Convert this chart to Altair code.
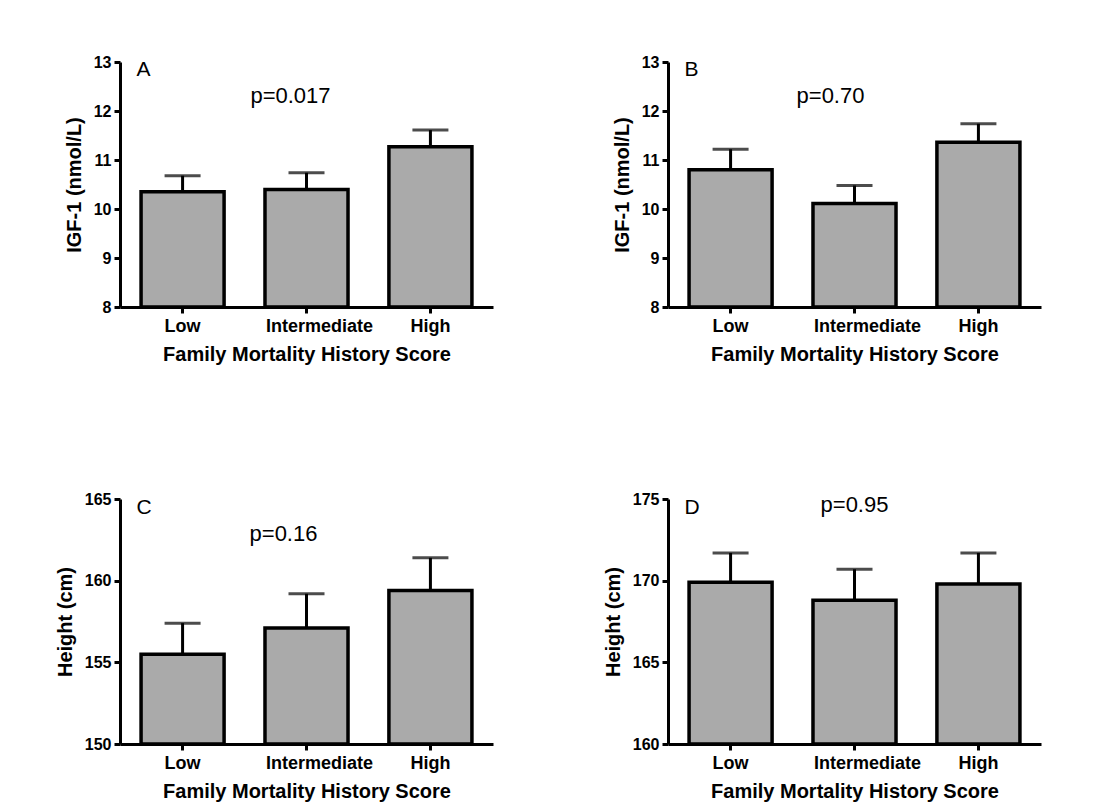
import altair as alt
import pandas as pd

groups = ["Low", "Intermediate", "High"]

igf_a_mean = [10.35, 10.40, 11.27]
igf_a_upper = [10.68, 10.74, 11.61]
igf_b_mean = [10.80, 10.11, 11.36]
igf_b_upper = [11.22, 10.48, 11.74]
height_c_mean = [155.5, 157.1, 159.4]
height_c_upper = [157.4, 159.2, 161.4]
height_d_mean = [169.9, 168.8, 169.8]
height_d_upper = [171.7, 170.7, 171.7]

igf_ticks = [8, 9, 10, 11, 12, 13]
height_c_ticks = [150, 155, 160, 165]
height_d_ticks = [160, 165, 170, 175]

panel_letters = ["A", "B", "C", "D"]
letter_y = [12.71, 12.71, 164.1, 174.1]
p_labels = ["p=0.017", "p=0.70", "p=0.16", "p=0.95"]
p_y = [12.17, 12.17, 162.42, 174.2]
p_dx = [-16, -24, -23, 0]

FONT = "Liberation Sans"
PW, PH = 373, 245


def panel(i, means, uppers, ticks, ytitle):
    ymin, ymax = ticks[0], ticks[-1]
    df = pd.DataFrame({"group": groups, "mean": means, "upper": uppers,
                       "base": [ymin] * len(groups)})
    xscale = alt.Scale(domain=groups, paddingInner=0.33, paddingOuter=0.17)
    yscale = alt.Scale(domain=[ymin, ymax], zero=False, nice=False)
    xaxis = alt.Axis(
        title="Family Mortality History Score", labelAngle=0,
        labelOffset={"condition": {"test": "datum.value === 'Intermediate'", "value": 13}, "value": 0},
        labelFontSize=18, labelPadding=4, titlePadding=9,
    )
    yaxis = alt.Axis(title=ytitle, values=ticks, format="d", labelFontSize=16,
                     labelPadding=3, titlePadding=9)
    x = alt.X("group:N", scale=xscale, axis=xaxis)
    base = alt.Chart(df)
    bars = base.mark_bar(color="#aaaaaa", stroke="black", strokeWidth=3.5).encode(
        x=x, y=alt.Y("mean:Q", scale=yscale, axis=yaxis), y2="base:Q")
    stem = base.mark_rule(color="black", strokeWidth=3).encode(
        x=x, y=alt.Y("mean:Q", scale=yscale, axis=yaxis), y2="upper:Q")
    cap = base.mark_tick(color="black", thickness=3, size=36).encode(
        x=x, y=alt.Y("upper:Q", scale=yscale, axis=yaxis))
    letter = alt.Chart().mark_text(align="left", baseline="alphabetic", fontSize=21,
                                   font=FONT, dx=-46, color="black").encode(
        x=alt.datum(groups[0], scale=xscale), y=alt.datum(letter_y[i], scale=yscale),
        text=alt.value(panel_letters[i]))
    ptxt = alt.Chart().mark_text(align="center", baseline="alphabetic", fontSize=22,
                                 font=FONT, dx=p_dx[i], color="black").encode(
        x=alt.datum(groups[1], scale=xscale), y=alt.datum(p_y[i], scale=yscale),
        text=alt.value(p_labels[i]))
    return alt.layer(bars, stem, cap, letter, ptxt).properties(width=PW, height=PH)


pa = panel(0, igf_a_mean, igf_a_upper, igf_ticks, "IGF-1 (nmol/L)")
pb = panel(1, igf_b_mean, igf_b_upper, igf_ticks, "IGF-1 (nmol/L)")
pc = panel(2, height_c_mean, height_c_upper, height_c_ticks, "Height (cm)")
pd_ = panel(3, height_d_mean, height_d_upper, height_d_ticks, "Height (cm)")

chart = alt.concat(pa, pb, pc, pd_, columns=2, spacing={"row": 192, "column": 175},
                   bounds="flush").properties(
    padding={"left": 47, "top": 46, "right": 5, "bottom": 5}, background="white"
).configure_view(stroke=None).configure_axis(
    grid=False, domainColor="black", domainWidth=3, tickColor="black", tickWidth=3,
    tickSize=6, labelFont=FONT, labelFontWeight="bold", labelColor="black",
    titleFont=FONT, titleFontWeight="bold", titleFontSize=20, titleColor="black",
)

chart.save("out.html", embed_options={"renderer": "svg", "actions": False})
